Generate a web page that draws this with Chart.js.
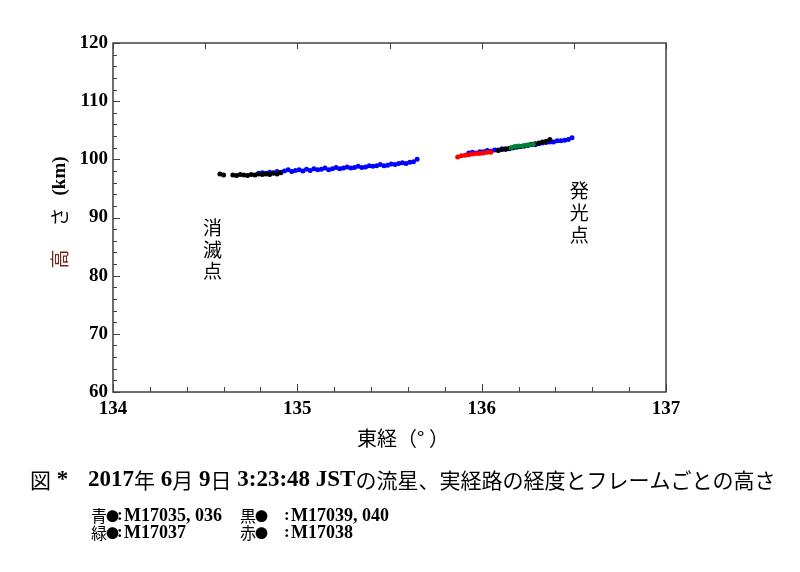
<!DOCTYPE html>
<html>
<head>
<meta charset="utf-8">
<script src="https://cdn.jsdelivr.net/npm/chart.js@4"></script>
<style>
  html, body { margin: 0; padding: 0; background: #fff; }
  #wrap { width: 800px; height: 572px; }
</style>
</head>
<body>
<div id="wrap"><canvas id="chart" width="800" height="572"></canvas></div>
<script>
// Longitude (deg) and height (km), per camera group
const blue1Lon = [134.79,134.81,134.83,134.85,134.87,134.89,134.91,134.93,134.95,134.97,134.99,135.01,135.03,135.05,135.07,135.09,135.11,135.13,135.15,135.17,135.19,135.21,135.23,135.25,135.27,135.29,135.31,135.33,135.35,135.37,135.39,135.41,135.43,135.45,135.47,135.49,135.51,135.53,135.55,135.57,135.59,135.61,135.63,135.65];
const blue1Alt = [97.6,97.7,97.6,97.8,97.7,97.9,97.8,98.0,98.2,97.9,98.1,98.2,98.0,98.3,98.1,98.4,98.2,98.3,98.5,98.2,98.4,98.6,98.4,98.5,98.7,98.5,98.6,98.8,98.6,98.7,98.9,98.8,98.9,99.1,98.9,99.0,99.2,99.1,99.3,99.4,99.3,99.5,99.6,100.0];

const blue2Lon = [135.93,135.95,135.97,135.99,136.01,136.03,136.05,136.07,136.09,136.11,136.13,136.15,136.17,136.19,136.21,136.23,136.25,136.27,136.29,136.31,136.33,136.35,136.37,136.39,136.41,136.43,136.45,136.47,136.49];
const blue2Alt = [101.1,101.2,101.1,101.3,101.3,101.5,101.4,101.6,101.6,101.8,101.7,101.9,102.0,102.1,102.2,102.3,102.4,102.5,102.5,102.7,102.8,102.9,103.0,103.0,103.2,103.2,103.3,103.4,103.7];

const black1Lon = [134.58,134.60,134.65,134.67,134.69,134.71,134.73,134.75,134.77,134.79,134.81,134.83,134.85,134.87,134.89,134.91];
const black1Alt = [97.5,97.3,97.3,97.2,97.4,97.3,97.2,97.4,97.3,97.5,97.4,97.5,97.4,97.6,97.5,97.7];

const black2Lon = [136.09,136.11,136.13,136.15,136.17,136.19,136.21,136.23,136.25,136.27,136.29,136.31,136.33,136.35,136.37];
const black2Alt = [101.5,101.7,101.8,101.8,102.0,102.1,102.2,102.3,102.4,102.6,102.7,102.8,103.0,103.1,103.4];

const greenLon = [136.16,136.18,136.20,136.22,136.24,136.26,136.28];
const greenAlt = [102.0,102.2,102.3,102.3,102.4,102.5,102.6];

const redLon = [135.87,135.89,135.91,135.93,135.95,135.97,135.99,136.01,136.03,136.05];
const redAlt = [100.4,100.6,100.7,100.8,100.9,101.0,101.0,101.1,101.2,101.2];

// Axis ranges
const xRange = [134, 137];
const yRange = [60, 120];

const CJK = '"Noto Sans CJK JP", "Noto Sans CJK SC", sans-serif';
const SERIF = '"Liberation Serif", "DejaVu Serif", serif';

function pts(lons, alts) {
    return lons.map((v, i) => ({ x: v, y: alts[i] }));
}

function drawTicks(ctx, chart) {
    const a = chart.chartArea;
    const xs = chart.scales.x;
    const ys = chart.scales.y;
    ctx.strokeStyle = "#404040";
    ctx.lineWidth = 1;
    // bottom: every 0.2, longer on whole degrees
    for (let k = 0; k <= (xRange[1] - xRange[0]) * 5; k++) {
        const v = xRange[0] + k * 0.2;
        const px = Math.round(xs.getPixelForValue(v)) + 0.5;
        const len = k % 5 === 0 ? 8 : 5;
        ctx.beginPath();
        ctx.moveTo(px, a.bottom);
        ctx.lineTo(px, a.bottom - len);
        ctx.stroke();
    }
    // top: every 0.5
    for (let k = 0; k <= (xRange[1] - xRange[0]) * 2; k++) {
        const v = xRange[0] + k * 0.5;
        const px = Math.round(xs.getPixelForValue(v)) + 0.5;
        ctx.beginPath();
        ctx.moveTo(px, a.top);
        ctx.lineTo(px, a.top + 6);
        ctx.stroke();
    }
    // left: every 2 km, longer on tens
    for (let v = yRange[0]; v <= yRange[1]; v += 2) {
        const py = Math.round(ys.getPixelForValue(v)) + 0.5;
        const len = v % 10 === 0 ? 7 : 4;
        ctx.beginPath();
        ctx.moveTo(a.left, py);
        ctx.lineTo(a.left + len, py);
        ctx.stroke();
    }
}

// draw a row of text pieces with their own fonts, left to right
function drawPieces(ctx, x, y, pieces) {
    ctx.textBaseline = "middle";
    ctx.textAlign = "left";
    pieces.forEach((p) => {
        ctx.font = p.font;
        ctx.fillStyle = p.color || "#000";
        const px = p.at !== undefined ? p.at : x;
        ctx.fillText(p.text, px, y);
        x = px + ctx.measureText(p.text).width;
    });
}

function drawVertical(ctx, text, lon, alts, chart) {
    const xs = chart.scales.x;
    const ys = chart.scales.y;
    ctx.font = "19px " + CJK;
    ctx.fillStyle = "#000";
    ctx.textAlign = "center";
    ctx.textBaseline = "middle";
    [...text].forEach((ch, i) => {
        ctx.fillText(ch, xs.getPixelForValue(lon), ys.getPixelForValue(alts[i]));
    });
}

function keyRow(ctx, y, left, right) {
    const kanji = "16px " + CJK;
    const dot = "13px " + CJK;
    const colon = "bold 17px " + SERIF;
    const label = "bold 18px " + SERIF;
    drawPieces(ctx, 0, y, [
        { text: left[0], font: kanji, at: 91 },
        { text: "●", font: dot, at: 106 },
        { text: ":", font: colon, at: 117 },
        { text: left[1], font: label, at: 124 },
        { text: right[0], font: kanji, at: 240 },
        { text: "●", font: dot, at: 255 },
        { text: ":", font: colon, at: 284 },
        { text: right[1], font: label, at: 291 },
    ]);
}

const overlay = {
    id: "overlay",
    afterDraw(chart) {
        const ctx = chart.ctx;
        const a = chart.chartArea;
        ctx.save();

        // frame
        ctx.strokeStyle = "#404040";
        ctx.lineWidth = 1.5;
        ctx.strokeRect(a.left, a.top, a.right - a.left, a.bottom - a.top);
        drawTicks(ctx, chart);

        // annotations inside the plot
        drawVertical(ctx, "消滅点", 134.54, [88.2, 84.5, 80.8], chart);
        drawVertical(ctx, "発光点", 136.53, [94.6, 90.8, 87.0], chart);

        // x axis title
        ctx.font = "20px " + CJK;
        ctx.fillStyle = "#000";
        ctx.textAlign = "center";
        ctx.textBaseline = "middle";
        ctx.fillText("東経（° ）", 403, 438);

        // y axis title, rotated
        ctx.save();
        ctx.translate(60, (a.top + a.bottom) / 2);
        ctx.rotate(-Math.PI / 2);
        drawPieces(ctx, 0, 0, [
            { text: "高", font: "19px " + CJK, color: "#7a2418", at: -51 },
            { text: "さ", font: "19px " + CJK, at: -9 },
            { text: "(km)", font: "bold 19px " + SERIF, at: 22 },
        ]);
        ctx.restore();

        // caption
        drawPieces(ctx, 30, 480, [
            { text: "図", font: "21px " + CJK },
            { text: " *", font: "bold 23px " + SERIF },
            { text: "2017", font: "bold 23px " + SERIF, at: 88 },
            { text: "年", font: "21px " + CJK },
            { text: " 6", font: "bold 23px " + SERIF },
            { text: "月", font: "21px " + CJK },
            { text: " 9", font: "bold 23px " + SERIF },
            { text: "日", font: "21px " + CJK },
            { text: " 3:23:48 JST", font: "bold 23px " + SERIF },
            { text: "の流星、実経路の経度とフレームごとの高さ", font: "21px " + CJK },
        ]);

        // colour key
        keyRow(ctx, 516, ["青", "M17035, 036"], ["黒", "M17039, 040"]);
        keyRow(ctx, 533, ["緑", "M17037"], ["赤", "M17038"]);

        ctx.restore();
    },
};

function series(data, color, order) {
    return {
        data: data,
        backgroundColor: color,
        borderWidth: 0,
        pointRadius: 2.5,
        pointHoverRadius: 2.5,
        order: order,
    };
}

new Chart(document.getElementById("chart"), {
    type: "scatter",
    data: {
        datasets: [
            series(pts(greenLon, greenAlt), "#00803a", 0),
            series(pts(redLon, redAlt), "#ff0000", 1),
            series(pts(black1Lon, black1Alt), "#000000", 2),
            series(pts(black2Lon, black2Alt), "#000000", 2),
            series(pts(blue1Lon, blue1Alt), "#0000ff", 3),
            series(pts(blue2Lon, blue2Alt), "#0000ff", 3),
        ],
    },
    options: {
        responsive: false,
        animation: false,
        devicePixelRatio: 1,
        layout: { padding: { left: 0, top: 43, right: 134, bottom: 150 } },
        plugins: {
            legend: { display: false },
            tooltip: { enabled: false },
        },
        scales: {
            x: {
                type: "linear",
                min: xRange[0],
                max: xRange[1],
                grid: { display: false, tickLength: 0 },
                border: { display: false },
                ticks: {
                    stepSize: 1,
                    padding: 6,
                    autoSkip: false,
                    maxRotation: 0,
                    color: "#000",
                    font: { family: SERIF, size: 19, weight: "bold" },
                },
                afterFit: (s) => { s.height = 30; },
            },
            y: {
                type: "linear",
                min: yRange[0],
                max: yRange[1],
                grid: { display: false, tickLength: 0 },
                border: { display: false },
                ticks: {
                    stepSize: 10,
                    padding: 5,
                    color: "#000",
                    font: { family: SERIF, size: 19, weight: "bold" },
                },
                afterFit: (s) => { s.width = 113; },
            },
        },
    },
    plugins: [overlay],
});
</script>
</body>
</html>
